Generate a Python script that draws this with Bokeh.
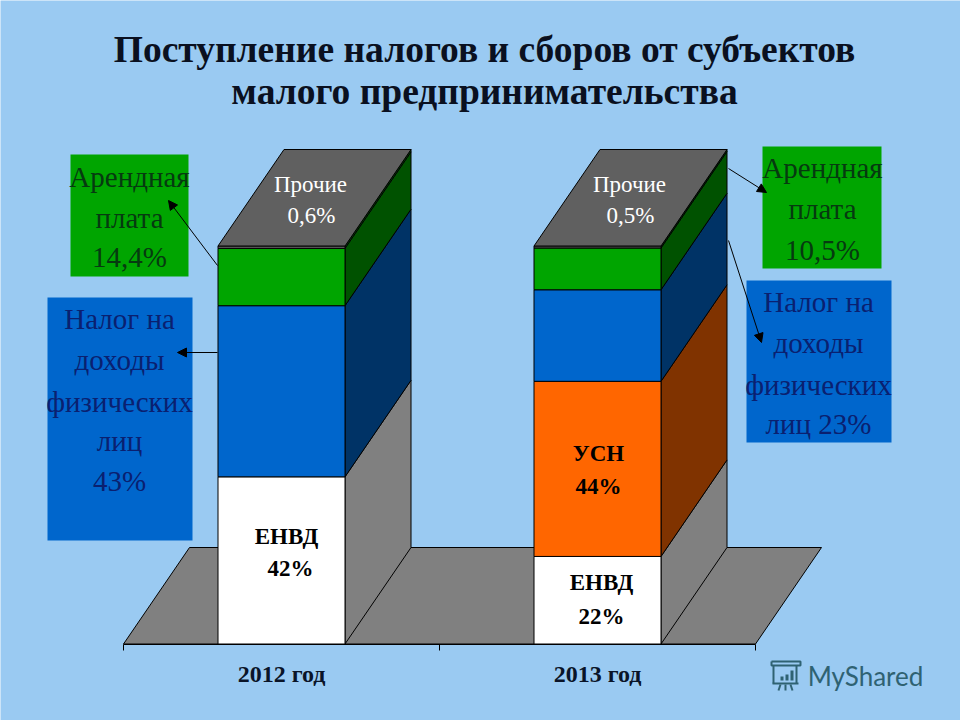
from bokeh.plotting import figure
from bokeh.models import LinearAxis, FixedTicker, Arrow, NormalHead, Range1d
from bokeh.core.properties import value
from bokeh.embed import file_html
from bokeh.resources import INLINE

# ---- data ----
years = ["2012 год", "2013 год"]
year_pos = [0, 1]
segments_2012 = ["ЕНВД", "Налог на доходы", "Арендная плата", "Прочие"]
values_2012 = [42.0, 43.0, 14.4, 0.6]
segments_2013 = ["ЕНВД", "УСН", "Налог на доходы", "Арендная плата", "Прочие"]
values_2013 = [22.0, 44.0, 23.0, 10.5, 0.5]
front_colors = {"ЕНВД": "#FFFFFF", "УСН": "#FF6600", "Налог на доходы": "#0066CC",
                "Арендная плата": "#00A500", "Прочие": "#606060"}
side_colors = {"ЕНВД": "#808080", "УСН": "#803300", "Налог на доходы": "#003366",
               "Арендная плата": "#005200", "Прочие": "#005200"}
title_lines = ["Поступление налогов и сборов от субъектов", "малого предпринимательства"]

BG = "#9ACAF2"
W, H = 960, 720
PX_X, PX_Y = 316.0, 3.98   # pixels per category / per percent
X0, Y0 = 281.0, 643.5      # page pixel of category 0, value 0
BAR_W = 127 / PX_X
DX, DY = 66 / PX_X, 96.5 / PX_Y


def px(X):
    return (X - X0) / PX_X


def py(Y):
    return (Y0 - Y) / PX_Y


p = figure(width=W, height=H, output_backend="svg", toolbar_location=None,
           x_axis_type=None, y_axis_type=None,
           x_range=Range1d(px(0), px(W)), y_range=Range1d(py(H), py(0)),
           min_border=0, background_fill_color=BG, border_fill_color=BG,
           outline_line_color=None)
p.grid.visible = False

# floor
fx = [-0.5, -0.5 + DX, 1.5 + DX, 1.5]
fy = [0, DY, DY, 0]
p.patch(fx, fy, fill_color="#808080", line_color="black", line_width=1)


def bar(cx, names, vals):
    x0, x1 = cx - BAR_W / 2, cx + BAR_W / 2
    bottom = 0.0
    for n, v in zip(names, vals):
        top = bottom + v
        p.patch([x1, x1 + DX, x1 + DX, x1], [bottom, bottom + DY, top + DY, top],
                fill_color=side_colors[n], line_color="black", line_width=1)
        p.quad(left=x0, right=x1, bottom=bottom, top=top,
               fill_color=front_colors[n], line_color="black", line_width=1)
        bottom = top
    p.patch([x0, x0 + DX, x1 + DX, x1], [bottom, bottom + DY, bottom + DY, bottom],
            fill_color="#606060", line_color="black", line_width=1)


bar(year_pos[0], segments_2012, values_2012)
bar(year_pos[1], segments_2013, values_2013)

# axis: labels at the categories, ticks between them
axis = LinearAxis(ticker=FixedTicker(ticks=year_pos, minor_ticks=[-0.5, 0.5, 1.5]),
                  fixed_location=0, bounds=(-0.5, 1.5),
                  major_label_overrides={k: v for k, v in zip(year_pos, years)},
                  major_tick_line_color=None, major_tick_in=0, major_tick_out=0,
                  minor_tick_line_color="black", minor_tick_in=0, minor_tick_out=6,
                  axis_line_color="black", major_label_standoff=11,
                  major_label_text_font="Liberation Serif",
                  major_label_text_font_style="bold",
                  major_label_text_font_size="24px",
                  major_label_text_color="#0a1428")
p.add_layout(axis, "below")

# annotation boxes
for l, r, t, b, c in [(70, 188, 154, 276, "#00A500"), (47, 192, 297, 540, "#0066CC"),
                      (762, 881, 146, 268, "#00A500"), (746, 891, 280, 442, "#0066CC")]:
    p.quad(left=px(l), right=px(r), top=py(t), bottom=py(b), fill_color=c, line_color=None)


def label(txt, X, Y, size, color, bold=False, font="Liberation Serif"):
    p.text([px(X)], [py(Y)], text=[txt], text_font=value(font), text_font_size=size,
           text_color=color, text_align="center", text_baseline="middle",
           text_font_style="bold" if bold else "normal")


DG, DB = "#063a10", "#0a2070"
for t, X, Y in [("Арендная", 129, 176), ("плата", 129, 217), ("14,4%", 129, 256)]:
    label(t, X, Y, "29px", DG)
for t, X, Y in [("Налог на", 119, 318), ("доходы", 119, 359), ("физических", 119, 401),
                ("лиц", 119, 440), ("43%", 119, 480)]:
    label(t, X, Y, "29px", DB)
for t, X, Y in [("Арендная", 822, 167), ("плата", 822, 208), ("10,5%", 822, 249)]:
    label(t, X, Y, "29px", DG)
for t, X, Y in [("Налог на", 818, 301), ("доходы", 818, 342), ("физических", 818, 384),
                ("лиц 23%", 818, 423)]:
    label(t, X, Y, "29px", DB)

for t, X, Y in [("Прочие", 310, 184), ("0,6%", 311, 215), ("Прочие", 629, 184), ("0,5%", 630, 215)]:
    label(t, X, Y, "23px", "white")
for t, X, Y in [("ЕНВД", 286, 536), ("42%", 290, 568), ("УСН", 598, 453), ("44%", 598, 486),
                ("ЕНВД", 601, 582), ("22%", 601, 616)]:
    label(t, X, Y, "23px", "black", bold=True)

# titles
for t, Y in zip(title_lines, [49, 91]):
    label(t, 484, Y, "37.5px", "#0a1020", bold=True)

# arrows
for a, b, c, d in [(217, 265, 168, 200), (217, 352, 177, 352), (728, 168, 766, 192), (728, 240, 761, 342)]:
    p.add_layout(Arrow(end=NormalHead(size=9, fill_color="black", line_color="black"),
                       x_start=px(a), y_start=py(b), x_end=px(c), y_end=py(d),
                       line_color="black", line_width=1))

# watermark
label("MyShared", 865, 675, "26px", "#2f6272", font="Lato")
TEAL = "#2f6272"
p.multi_line([[px(771), px(800), px(800), px(771), px(771)],
              [px(772), px(798)], [px(780), px(778)], [px(785), px(785)], [px(790), px(792)]],
             [[py(661), py(661), py(665), py(665), py(661)],
              [py(683), py(683)], [py(684), py(690)], [py(684), py(690)], [py(684), py(690)]],
             line_color=TEAL, line_width=2)
p.multi_line([[px(773), px(773)], [px(796), px(796)]], [[py(665), py(683)], [py(665), py(683)]],
             line_color=TEAL, line_width=2)
p.quad(left=[px(780), px(785), px(790)], right=[px(783), px(788), px(793)],
       bottom=[py(680)] * 3, top=[py(676), py(674), py(670)], fill_color=TEAL, line_color=None)

open("out.html", "w").write(file_html(p, INLINE))
